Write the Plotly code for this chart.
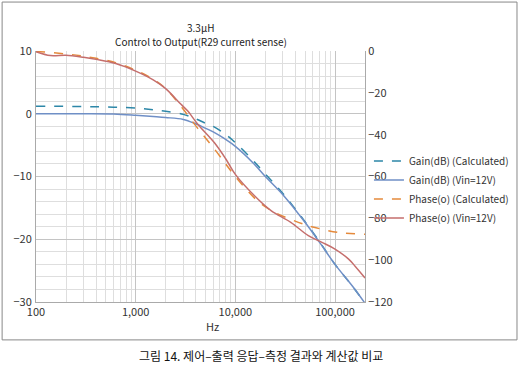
import plotly.graph_objects as go

# ---- data ----
gain_meas_f = [100, 300, 600, 1000, 1500, 2000, 3000, 4000, 5000, 6000, 8000, 10000,
               15000, 20000, 30000, 50000, 70000, 100000, 150000, 200000]
gain_meas = [0.0, 0.0, -0.05, -0.25, -0.45, -0.6, -0.9, -1.6, -2.3, -2.9, -4.1, -5.2,
             -7.8, -10.0, -12.9, -17.3, -20.5, -24.0, -27.5, -30.2]

gain_calc_f = [100, 300, 600, 1000, 1500, 2000, 3000, 4000, 5000, 6000, 8000, 10000,
               15000, 20000, 30000, 50000, 70000, 100000, 150000, 200000]
gain_calc = [1.2, 1.15, 1.05, 0.9, 0.65, 0.4, -0.1, -0.8, -1.5, -2.0, -3.3, -4.6,
             -7.4, -9.6, -12.7, -17.2, -20.4, -24.0, -27.5, -30.2]

phase_meas_f = [100, 140, 200, 300, 400, 630, 1000, 1500, 2000, 2850, 3300, 4200, 6200,
                8000, 10000, 17000, 23000, 36000, 54000, 74000, 100000, 137000, 160000, 200000]
phase_meas = [-0.3, -2.2, -2.0, -3.0, -4.0, -6.0, -9.6, -13.8, -18.0, -25.5, -28.5, -35.0, -44.0,
              -51.5, -59.0, -71.0, -76.4, -81.9, -88.3, -91.5, -94.7, -99.5, -103.0, -108.5]

phase_calc_f = [100, 200, 300, 400, 630, 1000, 1500, 2000, 2850, 4200, 6200, 8000, 10000,
                17000, 25000, 36000, 50000, 63000, 110000, 200000]
phase_calc = [-0.2, -1.4, -2.5, -3.5, -5.6, -9.2, -13.5, -18.0, -26.5, -37.0, -47.0, -54.0, -60.0,
              -72.0, -77.2, -80.5, -83.0, -84.4, -86.8, -87.6]

x_tick_vals = [100, 1000, 10000, 100000]
x_tick_text = ["100", "1,000", "10,000", "100,000"]

FONT = "Noto Sans CJK KR"
C_GC = "#2d87a8"
C_GM = "#6f8fc6"
C_PC = "#e58a3c"
C_PM = "#c56e6c"

fig = go.Figure()
fig.add_trace(go.Scatter(x=gain_calc_f, y=gain_calc, mode="lines", name="Gain(dB) (Calculated)",
                         line=dict(color=C_GC, width=1.5, dash="dash", shape="spline")))
fig.add_trace(go.Scatter(x=gain_meas_f, y=gain_meas, mode="lines", name="Gain(dB) (Vin=12V)",
                         line=dict(color=C_GM, width=1.5, shape="spline")))
fig.add_trace(go.Scatter(x=phase_calc_f, y=phase_calc, mode="lines", name="Phase(o) (Calculated)",
                         yaxis="y2", line=dict(color=C_PC, width=1.5, dash="dash", shape="spline")))
fig.add_trace(go.Scatter(x=phase_meas_f, y=phase_meas, mode="lines", name="Phase(o) (Vin=12V)",
                         yaxis="y2", line=dict(color=C_PM, width=1.5, shape="spline")))

axis_font = dict(family=FONT, size=11, color="#333333")
fig.update_layout(
    width=522, height=366,
    margin=dict(l=36, r=157, t=51, b=64, autoexpand=False),
    paper_bgcolor="white", plot_bgcolor="white",
    font=dict(family=FONT, size=11, color="#333333"),
    showlegend=True,
    legend=dict(x=1.012, y=0.62, xanchor="left", yanchor="top",
                font=dict(family=FONT, size=10, color="#333333"),
                bgcolor="rgba(0,0,0,0)", tracegroupgap=0, itemwidth=30),
    xaxis=dict(type="log", range=[2, 5.30103], tickvals=x_tick_vals, ticktext=x_tick_text,
               showgrid=True, gridcolor="#c4c4c4", gridwidth=1,
               minor=dict(dtick="D1", showgrid=True, gridcolor="#dedede", gridwidth=1, ticks=""),
               showline=True, linecolor="#aaaaaa", linewidth=1, ticks="",
               tickfont=axis_font, zeroline=False, automargin=False),
    yaxis=dict(range=[-30, 10], dtick=10, showgrid=True, gridcolor="#c4c4c4", gridwidth=1,
               minor=dict(dtick=2, showgrid=True, gridcolor="#dedede", gridwidth=1, ticks=""),
               showline=True, linecolor="#aaaaaa", linewidth=1, ticks="",
               tickfont=axis_font, zeroline=False, automargin=False, ticklabelstandoff=1),
    yaxis2=dict(range=[-120, 0], dtick=20, overlaying="y", side="right", showgrid=False,
                showline=True, linecolor="#aaaaaa", linewidth=1, ticks="",
                tickfont=axis_font, zeroline=False, automargin=False),
    annotations=[
        dict(text="3.3μH", x=0.5, y=1.0956,
             xref="paper", yref="paper", xanchor="center", yanchor="middle",
             showarrow=False, font=dict(family=FONT, size=10, color="#222222")),
        dict(text="Control to Output(R29 current sense)", x=0.5, y=1.0398,
             xref="paper", yref="paper", xanchor="center", yanchor="middle",
             showarrow=False, font=dict(family=FONT, size=10, color="#222222")),
        dict(text="Hz", x=0.535, y=-0.096, xref="paper", yref="paper",
             xanchor="center", yanchor="middle", showarrow=False,
             font=dict(family=FONT, size=11, color="#333333")),
        dict(text="그림 14. 제어–출력 응답–측정 결과와 계산값 비교", x=0.684, y=-0.215,
             xref="paper", yref="paper", xanchor="center", yanchor="middle",
             showarrow=False, font=dict(family=FONT, size=12, color="#111111")),
    ],
    shapes=[dict(type="rect", xref="paper", yref="paper", x0=-0.103, x1=1.462,
                 y0=-0.151, y1=1.195, line=dict(color="#888888", width=1),
                 fillcolor="rgba(0,0,0,0)", layer="below")],
)

fig.write_html("out.html", config={"displayModeBar": False},
               post_script="document.body.style.margin='0px';document.body.style.overflow='hidden';")
